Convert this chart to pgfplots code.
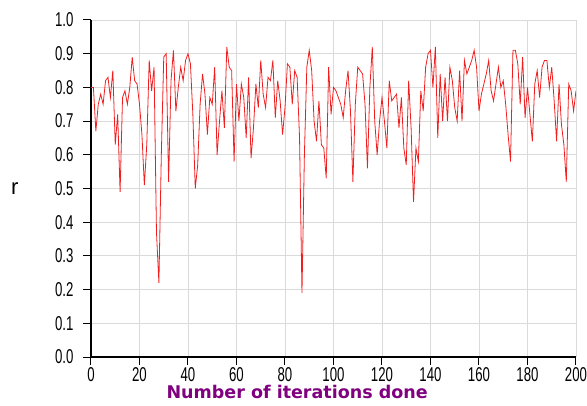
\documentclass[border=0pt]{standalone}
\usepackage{fontspec}
\setmainfont{Liberation Sans}
\newfontfamily\narrowfont[FakeStretch=0.66]{Liberation Sans}
\newfontfamily\labelfont{DejaVu Sans}
\usepackage{pgfplots}
\pgfplotsset{compat=1.18}
\definecolor{linered}{RGB}{240,30,30}
\definecolor{gridgray}{RGB}{218,218,218}
\definecolor{labelpurple}{RGB}{128,0,128}

\pgfplotstableread{
i r
0 0.80
1 0.80
2 0.67
3 0.75
4 0.78
5 0.75
6 0.82
7 0.83
8 0.77
9 0.85
10 0.63
11 0.72
12 0.49
13 0.77
14 0.79
15 0.75
16 0.80
17 0.89
18 0.82
19 0.81
20 0.75
21 0.66
22 0.51
23 0.63
24 0.88
25 0.79
26 0.86
27 0.37
28 0.22
29 0.60
30 0.89
31 0.90
32 0.52
33 0.82
34 0.91
35 0.73
36 0.80
37 0.86
38 0.82
39 0.88
40 0.90
41 0.87
42 0.72
43 0.50
44 0.57
45 0.75
46 0.84
47 0.78
48 0.66
49 0.77
50 0.75
51 0.86
52 0.60
53 0.70
54 0.79
55 0.68
56 0.92
57 0.86
58 0.85
59 0.58
60 0.81
61 0.70
62 0.81
63 0.77
64 0.65
65 0.83
66 0.59
67 0.68
68 0.81
69 0.74
70 0.88
71 0.78
72 0.74
73 0.83
74 0.82
75 0.88
76 0.71
77 0.82
78 0.76
79 0.66
80 0.74
81 0.87
82 0.86
83 0.75
84 0.85
85 0.83
86 0.65
87 0.19
88 0.60
89 0.86
90 0.91
91 0.85
92 0.70
93 0.64
94 0.76
95 0.63
96 0.62
97 0.53
98 0.86
99 0.72
100 0.80
101 0.79
102 0.77
103 0.75
104 0.71
105 0.79
106 0.85
107 0.73
108 0.52
109 0.75
110 0.86
111 0.85
112 0.84
113 0.75
114 0.56
115 0.80
116 0.92
117 0.70
118 0.60
119 0.70
120 0.77
121 0.70
122 0.62
123 0.82
124 0.76
125 0.77
126 0.78
127 0.68
128 0.77
129 0.62
130 0.57
131 0.82
132 0.68
133 0.46
134 0.62
135 0.58
136 0.79
137 0.73
138 0.86
139 0.90
140 0.91
141 0.80
142 0.92
143 0.65
144 0.84
145 0.70
146 0.83
147 0.70
148 0.86
149 0.82
150 0.74
151 0.70
152 0.85
153 0.70
154 0.88
155 0.84
156 0.86
157 0.88
158 0.91
159 0.86
160 0.73
161 0.78
162 0.81
163 0.84
164 0.88
165 0.79
166 0.76
167 0.81
168 0.86
169 0.80
170 0.82
171 0.75
172 0.66
173 0.58
174 0.91
175 0.91
176 0.87
177 0.75
178 0.89
179 0.71
180 0.80
181 0.72
182 0.64
183 0.81
184 0.85
185 0.77
186 0.86
187 0.88
188 0.88
189 0.80
190 0.86
191 0.76
192 0.64
193 0.81
194 0.69
195 0.63
196 0.52
197 0.81
198 0.79
199 0.73
200 0.79
}\rdata

\begin{document}
\begin{tikzpicture}
\useasboundingbox (-91pt,-48pt) rectangle (496pt,357pt);
\begin{axis}[
  at={(0,0)}, anchor=south west,
  scale only axis,
  width=485pt, height=337pt,
  xmin=0, xmax=200, ymin=0, ymax=1,
  xtick={0,20,...,200},
  ytick={0,0.1,...,1.0},
  axis x line=bottom, axis y line=left,
  axis line style={-, line width=1.3pt, black},
  tick align=outside,
  major tick length=8pt,
  tick style={line width=1pt, black},
  grid=major,
  major grid style={gridgray, line width=0.9pt},
  /pgf/number format/assume math mode=true,
  yticklabel style={/pgf/number format/fixed, /pgf/number format/fixed zerofill,
    /pgf/number format/precision=1, xshift=-6pt},
  ticklabel style={font=\narrowfont\fontsize{20}{20}\selectfont},
  xticklabel style={yshift=1pt},
  ylabel={r},
  ylabel style={rotate=-90, at={(axis description cs:-0.157,0.5)}, anchor=center,
    font=\fontsize{22}{22}\selectfont},
  xlabel={Number of iterations done},
  xlabel style={at={(axis description cs:0.425,-0.103)}, anchor=center,
    font=\labelfont\bfseries\fontsize{17.5}{18}\selectfont, text=labelpurple},
]
\addplot[linered, line width=0.8pt, mark=none] table[x=i, y=r] {\rdata};
\end{axis}
\end{tikzpicture}
\end{document}
